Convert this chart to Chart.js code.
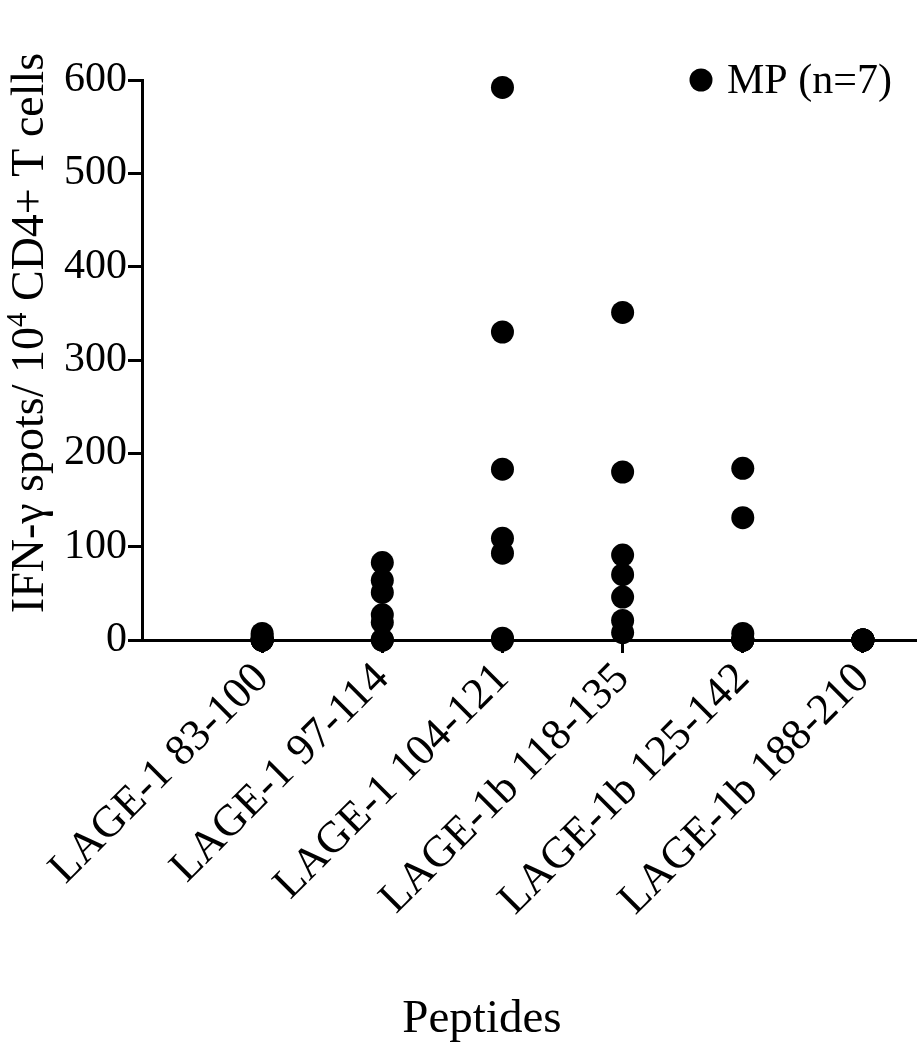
<!DOCTYPE html>
<html>
<head>
<meta charset="utf-8">
<script src="https://cdn.jsdelivr.net/npm/chart.js@4/dist/chart.umd.min.js"></script>
<style>
  html, body { margin: 0; padding: 0; background: #fff; }
  #chart { display: block; }
</style>
</head>
<body>
<canvas id="chart" width="917" height="1050"></canvas>
<script>
// peptides on the x axis
const peptides = ['LAGE-1 83-100', 'LAGE-1 97-114', 'LAGE-1 104-121', 'LAGE-1b 118-135', 'LAGE-1b 125-142', 'LAGE-1b 188-210'];

// IFN-g spots per 10^4 CD4+ T cells, one value per patient
const lage1_83 = [0, 0, 0, 0, 0, 4, 7];
const lage1_97 = [0, 0, 19, 27, 51, 64, 83];
const lage1_104 = [0, 2, 93, 109, 183, 330, 592];
const lage1b_118 = [8, 21, 46, 70, 91, 180, 351];
const lage1b_125 = [0, 0, 0, 0, 7, 131, 184];
const lage1b_188 = [0, 0, 0, 0, 0, 0, 0];

const yTicks = [0, 100, 200, 300, 400, 500, 600];
const seriesLabel = 'MP (n=7)';

const serif = '"Liberation Serif", "Times New Roman", serif';
const allValues = [lage1_83, lage1_97, lage1_104, lage1b_118, lage1b_125, lage1b_188];

const points = [];
allValues.forEach((vals, i) => {
    vals.forEach(v => points.push({ x: i + 1, y: v }));
});

// titles + legend drawn on top, positioned like the original figure
const extras = {
    id: 'extras',
    afterDraw(chart) {
        const ctx = chart.ctx;
        ctx.save();
        ctx.fillStyle = '#000';

        // legend
        ctx.beginPath();
        ctx.arc(701, 80, 11.5, 0, Math.PI * 2);
        ctx.fill();
        ctx.font = '42px ' + serif;
        ctx.textAlign = 'left';
        ctx.textBaseline = 'alphabetic';
        ctx.fillText(seriesLabel, 727, 93);

        // x title
        ctx.font = '47px ' + serif;
        ctx.textAlign = 'center';
        ctx.fillText('Peptides', 482, 1032);

        // y title with superscript
        const a = 'IFN-\u03b3 spots/ 10', sup = '4', b = ' CD4+ T cells';
        ctx.font = '46px ' + serif;
        const wa = ctx.measureText(a).width, wb = ctx.measureText(b).width;
        ctx.font = '29px ' + serif;
        const ws = ctx.measureText(sup).width;
        const total = wa + ws + wb;
        ctx.translate(43, 333);
        ctx.rotate(-Math.PI / 2);
        ctx.textAlign = 'left';
        let x = -total / 2;
        ctx.font = '46px ' + serif;
        ctx.fillText(a, x, 0);
        x += wa;
        ctx.font = '29px ' + serif;
        ctx.fillText(sup, x, -17);
        x += ws;
        ctx.font = '46px ' + serif;
        ctx.fillText(b, x, 0);
        ctx.restore();
    }
};

new Chart(document.getElementById('chart'), {
    type: 'scatter',
    data: {
        datasets: [{
            label: seriesLabel,
            data: points,
            backgroundColor: '#000',
            borderWidth: 0,
            pointRadius: 11.5,
            pointHoverRadius: 11.5,
            clip: false,
        }]
    },
    options: {
        responsive: false,
        animation: false,
        events: [],
        layout: { autoPadding: false, padding: { top: 80, right: 0, bottom: 0, left: 0 } },
        plugins: {
            legend: { display: false },
            tooltip: { enabled: false },
        },
        scales: {
            x: {
                type: 'linear',
                min: 0,
                max: 6.45,
                afterBuildTicks: s => { s.ticks = peptides.map((p, i) => ({ value: i + 1 })); },
                afterFit: s => { s.height = 410; s.paddingLeft = 0; s.paddingRight = 0; },
                grid: { drawOnChartArea: false, drawTicks: true, tickLength: 13, tickWidth: 3, tickColor: '#000' },
                border: { color: '#000', width: 3 },
                ticks: {
                    minRotation: 45,
                    maxRotation: 45,
                    autoSkip: false,
                    padding: 0,
                    color: '#000',
                    font: { family: serif, size: 44 },
                    callback: v => peptides[v - 1] || '',
                },
            },
            y: {
                min: 0,
                max: 600,
                afterBuildTicks: s => { s.ticks = yTicks.map(v => ({ value: v })); },
                afterFit: s => { s.width = 142; },
                grid: { drawOnChartArea: false, drawTicks: true, tickLength: 14, tickWidth: 3, tickColor: '#000' },
                border: { color: '#000', width: 3 },
                ticks: {
                    padding: 1,
                    color: '#000',
                    font: { family: serif, size: 42 },
                },
            },
        },
    },
    plugins: [extras],
});
</script>
</body>
</html>
